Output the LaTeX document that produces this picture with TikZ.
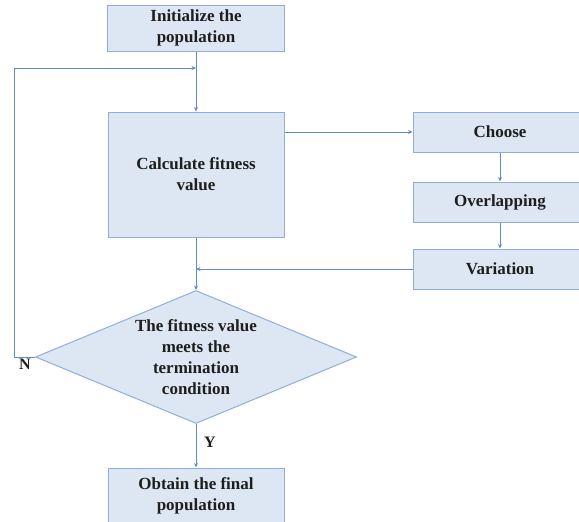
\documentclass[tikz,border=0pt]{standalone}
\usepackage{fontspec}
\setmainfont{Liberation Serif}
\usetikzlibrary{shapes.geometric,arrows.meta}
\definecolor{boxfill}{RGB}{221,231,244}
\definecolor{boxline}{RGB}{145,173,220}
\definecolor{flowline}{RGB}{100,136,200}
\definecolor{labeltext}{RGB}{30,30,30}
\begin{document}
\begin{tikzpicture}[x=1pt,y=-1pt,
  every node/.style={font=\fontsize{17}{21}\selectfont\bfseries, text=labeltext},
  stepbox/.style={draw=boxline, fill=boxfill, line width=1pt, rectangle,
    inner sep=0pt, align=center},
  decision/.style={draw=boxline, fill=boxfill, line width=1pt, diamond,
    aspect=2.41, inner sep=0pt, align=center},
  flow/.style={draw=flowline, line width=0.9pt},
  arrow/.style={flow, -{Stealth[length=4.5pt,width=4pt]}},
  branchlabel/.style={font=\fontsize{16}{18}\selectfont\bfseries}
]
\useasboundingbox (0,0) rectangle (579,522);
\begin{scope}
\clip (0,0) rectangle (579,522);

% process boxes
\node[stepbox, minimum width=177pt, minimum height=46pt] (init) at (196,28) {Initialize the\\population};
\node[stepbox, minimum width=176pt, minimum height=125pt] (calc) at (196,174.5) {Calculate fitness\\value};
\node[stepbox, minimum width=174pt, minimum height=40pt] (choose) at (500,132) {Choose};
\node[stepbox, minimum width=174pt, minimum height=40pt] (overlap) at (500,202) {Overlapping};
\node[stepbox, minimum width=174pt, minimum height=40pt] (vary) at (500,269) {Variation};
\node[decision, minimum width=321pt, minimum height=133pt] (test) at (196,357)
  {The fitness value\\meets the\\termination\\condition};
\node[stepbox, minimum width=176pt, minimum height=56pt] (final) at (196,496) {Obtain the final\\population};

% junction points on the main vertical line
\coordinate (loopin) at (196,68);
\coordinate (merge) at (196,269);
\coordinate (loopcorner) at (14,357);

% connectors
\draw[arrow] (init.south) -- (calc.north);
\draw[arrow] (test.west) -- (loopcorner) |- (loopin);
\draw[arrow] (calc.east |- choose.west) -- (choose.west);
\draw[arrow] (choose.south) -- (overlap.north);
\draw[arrow] (overlap.south) -- (vary.north);
\draw[arrow] (vary.west) -- (merge);
\draw[arrow] (calc.south) -- (test.north);
\draw[arrow] (test.south) -- (final.north);

% branch labels
\node[branchlabel] (nlabel) at (25,364) {N};
\node[branchlabel] (ylabel) at (210,442) {Y};
\end{scope}
\end{tikzpicture}
\end{document}
